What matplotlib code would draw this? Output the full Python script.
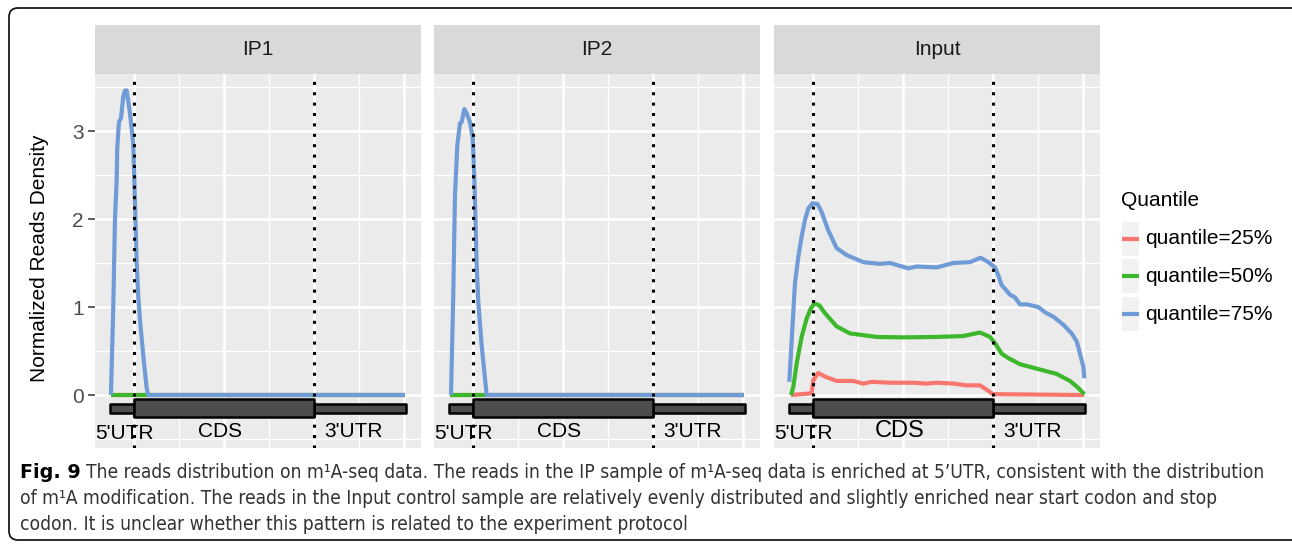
import matplotlib
matplotlib.use("Agg")
import matplotlib.pyplot as plt
from matplotlib import font_manager
from matplotlib.patches import Rectangle, FancyBboxPatch
from matplotlib.lines import Line2D

# ---------------- data ----------------
panels = ["IP1", "IP2", "Input"]
quantile_labels = ["quantile=25%", "quantile=50%", "quantile=75%"]
quantile_colors = ["#F8766D", "#3DB82C", "#6F9BD6"]

# gene structure boundaries (5'UTR start, start codon, stop codon, 3'UTR end)
region_names = ["5'UTR", "CDS", "3'UTR"]
region_bounds = [0.733, 1.0, 3.0, 4.02]
region_label_x = [0.89, 1.96, 3.44]
y_ticks = [0, 1, 2, 3]

# IP samples: 25% and 50% quantiles are flat at zero
ip_flat_x = [0.744, 4.01]
ip_flat_y = [0.0, 0.0]

ip1_q75_x = [0.744, 0.770, 0.789, 0.808, 0.814, 0.833, 0.856, 0.881, 0.900, 0.919,
             0.956, 0.992, 1.011, 1.030, 1.048, 1.067, 1.103, 1.141, 1.159, 4.01]
ip1_q75_y = [0.00, 1.00, 2.00, 2.45, 2.80, 3.10, 3.15, 3.39, 3.46, 3.46,
             3.20, 2.85, 2.20, 1.50, 1.12, 0.85, 0.45, 0.08, 0.00, 0.00]

ip2_q75_x = [0.756, 0.781, 0.800, 0.826, 0.856, 0.874, 0.904, 0.930, 0.967, 0.997,
             1.015, 1.040, 1.059, 1.096, 1.152, 4.01]
ip2_q75_y = [0.00, 1.14, 2.27, 2.84, 3.09, 3.10, 3.25, 3.20, 3.10, 2.92,
             2.47, 1.51, 1.06, 0.57, 0.00, 0.00]

input_q75_x = [0.737, 0.774, 0.800, 0.837, 0.874, 0.911, 0.948, 0.996, 1.052, 1.096,
               1.170, 1.263, 1.374, 1.559, 1.744, 1.856, 2.059, 2.152, 2.374, 2.559,
               2.744, 2.863, 2.948, 3.022, 3.059, 3.096, 3.189, 3.244, 3.300, 3.374,
               3.504, 3.578, 3.670, 3.781, 3.874, 3.930, 3.967, 4.004, 4.015]
input_q75_y = [0.15, 0.81, 1.27, 1.57, 1.80, 1.99, 2.12, 2.18, 2.17, 2.08,
               1.87, 1.67, 1.59, 1.51, 1.49, 1.50, 1.44, 1.46, 1.45, 1.50,
               1.51, 1.56, 1.51, 1.45, 1.36, 1.25, 1.14, 1.11, 1.03, 1.03,
               1.00, 0.94, 0.89, 0.80, 0.70, 0.61, 0.47, 0.32, 0.19]

input_q50_x = [0.756, 0.781, 0.819, 0.874, 0.930, 0.974, 1.015, 1.070, 1.133, 1.263,
               1.411, 1.559, 1.707, 2.004, 2.374, 2.670, 2.856, 2.967, 3.022, 3.096,
               3.170, 3.300, 3.411, 3.559, 3.707, 3.856, 3.948, 4.015]
input_q50_y = [0.00, 0.09, 0.36, 0.66, 0.87, 0.98, 1.04, 1.02, 0.93, 0.78,
               0.70, 0.68, 0.66, 0.655, 0.66, 0.67, 0.71, 0.66, 0.59, 0.47,
               0.42, 0.35, 0.32, 0.28, 0.24, 0.16, 0.08, 0.01]

input_q25_x = [0.756, 0.985, 1.004, 1.059, 1.133, 1.263, 1.448, 1.559, 1.652, 1.856,
               2.115, 2.263, 2.374, 2.559, 2.707, 2.856, 2.930, 3.000, 4.015]
input_q25_y = [0.00, 0.02, 0.17, 0.25, 0.21, 0.16, 0.16, 0.13, 0.15, 0.14,
               0.14, 0.13, 0.14, 0.13, 0.11, 0.11, 0.06, 0.01, 0.00]

series = {
    "IP1": [(ip_flat_x, ip_flat_y), (ip_flat_x, ip_flat_y), (ip1_q75_x, ip1_q75_y)],
    "IP2": [(ip_flat_x, ip_flat_y), (ip_flat_x, ip_flat_y), (ip2_q75_x, ip2_q75_y)],
    "Input": [(input_q25_x, input_q25_y), (input_q50_x, input_q50_y), (input_q75_x, input_q75_y)],
}

caption_bold = "Fig. 9"
caption_lines = [
    "The reads distribution on m\u00b9A-seq data. The reads in the IP sample of m\u00b9A-seq data is enriched at 5\u2019UTR, consistent with the distribution",
    "of m\u00b9A modification. The reads in the Input control sample are relatively evenly distributed and slightly enriched near start codon and stop",
    "codon. It is unclear whether this pattern is related to the experiment protocol",
]

# ---------------- layout helpers ----------------
W, H = 1292, 546
plt.rcParams["font.family"] = ["Liberation Sans", "DejaVu Sans"]
fig = plt.figure(figsize=(W / 100, H / 100), dpi=100)
fig.patch.set_facecolor("white")


def fx(px):
    return px / W


def fy(py):
    return 1 - py / H


panel_left = [95, 434, 774]
panel_w = 326
panel_top, panel_bot = 74, 448
strip_top = 25

XLIM = (0.567, 4.189)
YLIM = (-0.602, 3.648)
LW = 3.0

for i, name in enumerate(panels):
    L = panel_left[i]
    ax = fig.add_axes([fx(L), fy(panel_bot), panel_w / W, (panel_bot - panel_top) / H])
    ax.set_facecolor("#EBEBEB")
    for s in ax.spines.values():
        s.set_visible(False)
    ax.set_xlim(*XLIM)
    ax.set_ylim(*YLIM)
    # grid
    ax.set_xticks([1, 2, 3, 4])
    ax.set_xticks([1.5, 2.5, 3.5], minor=True)
    ax.set_yticks(y_ticks)
    ax.set_yticks([-0.5, 0.5, 1.5, 2.5, 3.5], minor=True)
    ax.grid(which="major", color="white", lw=1.8)
    ax.grid(which="minor", color="white", lw=1.0)
    ax.set_axisbelow(True)
    ax.tick_params(axis="x", which="both", bottom=False, labelbottom=False)
    ax.tick_params(axis="y", which="minor", left=False)
    if i == 0:
        ax.set_yticklabels([str(t) for t in y_ticks])
        ax.tick_params(axis="y", which="major", length=5, width=1.1, color="#333333",
                       labelsize=15, labelcolor="#4D4D4D", pad=3)
    else:
        ax.tick_params(axis="y", which="major", left=False, labelleft=False)

    # data lines
    for (xs, ys), col in zip(series[name], quantile_colors):
        ax.plot(xs, ys, color=col, lw=LW, solid_joinstyle="round",
                solid_capstyle="butt", zorder=3)

    # start / stop codon
    for xv in (region_bounds[1], region_bounds[2]):
        ax.axvline(xv, color="black", lw=2.2, linestyle=(0, (1, 2.4)), zorder=4)

    # gene structure
    utr_h = (-0.20, -0.10)
    cds_h = (-0.25, -0.05)
    spans = [(region_bounds[0], region_bounds[1], utr_h),
             (region_bounds[1], region_bounds[2], cds_h),
             (region_bounds[2], region_bounds[3], utr_h)]
    order = [0, 2, 1]
    for k in order:
        x0, x1, (y0, y1) = spans[k]
        ax.add_patch(Rectangle((x0, y0), x1 - x0, y1 - y0, facecolor="#4D4D4D",
                               edgecolor="black", lw=1.8, zorder=5,
                               joinstyle="round"))
    for k, (lab, lx) in enumerate(zip(region_names, region_label_x)):
        fs = 17 if (name == "Input" and lab == "CDS") else 15
        ly = -0.44 if k == 0 else -0.41
        ax.text(lx, ly, lab, ha="center", va="center", fontsize=fs,
                color="black", zorder=6)

    # strip
    sax = fig.add_axes([fx(L), fy(panel_top), panel_w / W, (panel_top - strip_top) / H])
    sax.set_facecolor("#D9D9D9")
    sax.set_xticks([])
    sax.set_yticks([])
    for s in sax.spines.values():
        s.set_visible(False)
    sax.text(0.5, 0.5, name, ha="center", va="center", fontsize=15, color="#1A1A1A",
             transform=sax.transAxes)

# y axis title
fig.text(fx(40), fy(258), "Normalized Reads Density", rotation=90, ha="center",
         va="center", fontsize=15, color="black")

# legend (drawn manually)
fig.text(fx(1121), fy(200), "Quantile", ha="left", va="center", fontsize=15, color="black")
key_tops = [222, 259, 297]
for lab, col, kt in zip(quantile_labels, quantile_colors, key_tops):
    kax = fig.add_axes([fx(1122), fy(kt + 34), 17 / W, 34 / H])
    kax.set_facecolor("#F2F2F2")
    kax.set_xlim(0, 1)
    kax.set_ylim(0, 1)
    kax.set_xticks([])
    kax.set_yticks([])
    for s in kax.spines.values():
        s.set_visible(False)
    kax.add_line(Line2D([0.05, 0.95], [0.5, 0.5], color=col, lw=LW))
    fig.text(fx(1145), fy(kt + 17), lab, ha="left", va="center", fontsize=15, color="black")

# outer rounded frame (display pixel coordinates, right side beyond the canvas)
frame = FancyBboxPatch((9, H - 540), 1310 - 9, 540 - 8,
                       boxstyle="round,pad=0,rounding_size=9",
                       transform=None, facecolor="none",
                       edgecolor="#1A1A1A", lw=1.3)
fig.patches.append(frame)


# ---------------- caption ----------------
def _weight_num(w):
    if isinstance(w, (int, float)):
        return int(w)
    return font_manager.weight_dict.get(str(w).lower(), 400)


reg_fp_file = None
bold_fp_file = None
best = None
for fe in font_manager.fontManager.ttflist:
    nm = fe.name
    narrow = ("Condensed" in nm or "Narrow" in nm or
              str(fe.stretch) in ("condensed", "semi-condensed", "extra-condensed", "75", "87"))
    if not narrow or fe.style != "normal":
        continue
    w = _weight_num(fe.weight)
    if 300 <= w <= 500:
        score = abs(w - 400)
        if best is None or score < best[0]:
            best = (score, fe.fname, nm)
if best is not None:
    reg_fp_file = best[1]
    for fe in font_manager.fontManager.ttflist:
        if fe.name == best[2] and fe.style == "normal" and _weight_num(fe.weight) >= 600:
            bold_fp_file = fe.fname
            break


def reg_props(fs):
    if reg_fp_file:
        return font_manager.FontProperties(fname=reg_fp_file, size=fs)
    return font_manager.FontProperties(family=["Open Sans", "DejaVu Sans"], size=fs)


def bold_props(fs):
    if bold_fp_file:
        return font_manager.FontProperties(fname=bold_fp_file, size=fs)
    if reg_fp_file:
        return font_manager.FontProperties(fname=reg_fp_file, size=fs, weight="bold")
    return font_manager.FontProperties(family=["Open Sans", "DejaVu Sans"], size=fs,
                                       weight="bold")


cap_color = "#333333"
line_y = [473, 499, 524]
fig.canvas.draw()
renderer = fig.canvas.get_renderer()


def make_caption(fs):
    objs = []
    b = fig.text(fx(20), fy(line_y[0]), caption_bold, fontproperties=bold_props(fs),
                 va="center", ha="left", color="black")
    bw = b.get_window_extent(renderer).width
    sp = fs * 0.25 * 100 / 72
    t0 = fig.text(fx(20 + bw + sp), fy(line_y[0]), caption_lines[0],
                  fontproperties=reg_props(fs), va="center", ha="left", color=cap_color)
    objs += [b, t0]
    for ln, yy in zip(caption_lines[1:], line_y[1:]):
        objs.append(fig.text(fx(20), fy(yy), ln, fontproperties=reg_props(fs),
                             va="center", ha="left", color=cap_color))
    end = t0.get_window_extent(renderer).x1
    return objs, end


fs = 12.0
for _ in range(3):
    objs, end = make_caption(fs)
    ratio = (1262 - 20) / (end - 20)
    for o in objs:
        o.remove()
    fs = fs * ratio
make_caption(fs)

fig.savefig("out.png", dpi=100, facecolor="white")
